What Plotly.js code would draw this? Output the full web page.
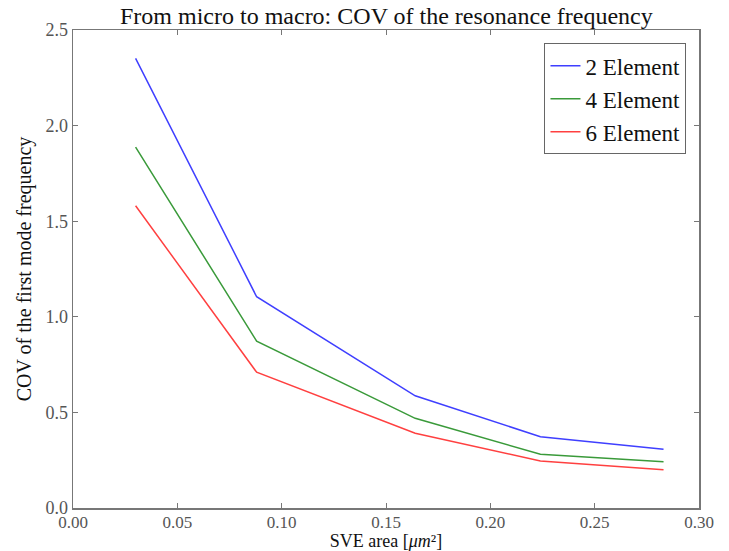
<!DOCTYPE html>
<html>
<head>
<meta charset="utf-8">
<script src="https://cdn.plot.ly/plotly-3.0.1.min.js"></script>
<style>html,body{margin:0;padding:0;background:#fff;}#chart{width:729px;height:551px;}</style>
</head>
<body>
<div id="chart"></div>
<script>
const sveArea = [0.030, 0.088, 0.164, 0.224, 0.283];
const cov2Element = [2.352, 1.105, 0.587, 0.373, 0.307];
const cov4Element = [1.887, 0.873, 0.469, 0.281, 0.242];
const cov6Element = [1.581, 0.710, 0.391, 0.246, 0.200];
const seriesNames = ['2 Element', '4 Element', '6 Element'];
const xTicks = [0.00, 0.05, 0.10, 0.15, 0.20, 0.25, 0.30];
const yTicks = [0.0, 0.5, 1.0, 1.5, 2.0, 2.5];

const font = 'Liberation Serif, DejaVu Serif, serif';
const colors = ['#3f3fff', '#3a9a3a', '#ff4040'];
const ys = [cov2Element, cov4Element, cov6Element];
const traces = ys.map((y, i) => ({
  x: sveArea, y: y, type: 'scatter', mode: 'lines', name: seriesNames[i],
  line: {color: colors[i], width: 1.5}
}));

const axisCommon = {
  showline: true, mirror: 'ticks', linecolor: '#777', linewidth: 1.5,
  ticks: 'inside', ticklen: 5, tickcolor: '#777', showgrid: false, zeroline: false,
  tickfont: {family: font, size: 18, color: '#555'}
};

const layout = {
  width: 729, height: 551,
  margin: {l: 73, r: 30, t: 30, b: 43},
  paper_bgcolor: '#fff', plot_bgcolor: '#fff',
  title: {text: 'From micro to macro: COV of the resonance frequency', font: {family: font, size: 24, color: '#111'},
          x: 0.53, xanchor: 'center', y: 0.972, yanchor: 'middle'},
  xaxis: Object.assign({}, axisCommon, {
    range: [0, 0.30], tickvals: xTicks, ticktext: xTicks.map(v => v.toFixed(2)),
    tickfont: {family: font, size: 17, color: '#555'},
    ticklabelstandoff: -2,
    title: {text: 'SVE area [<i>μm</i>²]', font: {family: font, size: 18, color: '#111'}, standoff: 5}
  }),
  yaxis: Object.assign({}, axisCommon, {
    range: [0, 2.5], tickvals: yTicks, ticktext: yTicks.map(v => v.toFixed(1)),
    title: {text: 'COV of the first mode frequency', font: {family: font, size: 20, color: '#111'}, standoff: 8}
  }),
  showlegend: true,
  legend: {x: 0.98, xanchor: 'right', y: 0.972, yanchor: 'top', bgcolor: '#fff',
           bordercolor: '#666', borderwidth: 1, font: {family: font, size: 23, color: '#111'},
           tracegroupgap: 0}
};

Plotly.newPlot('chart', traces, layout, {displayModeBar: false, staticPlot: true});
</script>
</body>
</html>
